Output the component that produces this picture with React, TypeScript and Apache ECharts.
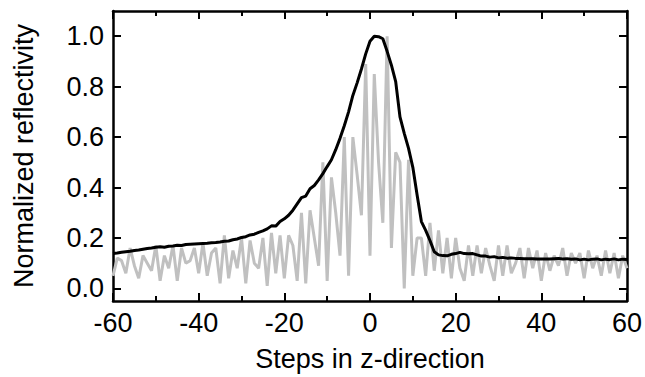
import React, { useEffect, useRef } from "react";
import * as echarts from "echarts";

// Steps in z-direction (x categories)
const steps = [
  -60, -59, -58, -57, -56, -55, -54, -53, -52, -51, -50, -49, -48, -47, -46, -45, -44, -43, -42, -41,
  -40, -39, -38, -37, -36, -35, -34, -33, -32, -31, -30, -29, -28, -27, -26, -25, -24, -23, -22, -21,
  -20, -19, -18, -17, -16, -15, -14, -13, -12, -11, -10, -9, -8, -7, -6, -5, -4, -3, -2, -1,
  0, 1, 2, 3, 4, 5, 6, 7, 8, 9, 10, 11, 12, 13, 14, 15, 16, 17, 18, 19,
  20, 21, 22, 23, 24, 25, 26, 27, 28, 29, 30, 31, 32, 33, 34, 35, 36, 37, 38, 39,
  40, 41, 42, 43, 44, 45, 46, 47, 48, 49, 50, 51, 52, 53, 54, 55, 56, 57, 58, 59, 60,
];

// Raw (oscillating) reflectivity, gray
const rawValues = [
  0.05, 0.12, 0.11, 0.06, 0.16, 0.09, 0.04, 0.13, 0.10, 0.07, 0.17, 0.03, 0.13, 0.08, 0.17, 0.03, 0.16, 0.10, 0.11, 0.16,
  0.06, 0.18, 0.05, 0.14, 0.16, 0.02, 0.21, 0.04, 0.15, 0.08, 0.20, 0.02, 0.19, 0.10, 0.08, 0.20, 0.01, 0.22, 0.06, 0.21,
  0.04, 0.21, 0.17, 0.03, 0.30, 0.02, 0.31, 0.20, 0.09, 0.50, 0.03, 0.44, 0.30, 0.13, 0.60, 0.05, 0.60, 0.45, 0.29, 0.89,
  0.13, 0.85, 0.50, 0.26, 1.0, 0.16, 0.54, 0.50, 0.0, 0.51, 0.05, 0.20, 0.20, 0.05, 0.26, 0.07, 0.23, 0.06, 0.20, 0.04,
  0.20, 0.08, 0.03, 0.17, 0.05, 0.17, 0.06, 0.16, 0.09, 0.03, 0.17, 0.05, 0.17, 0.06, 0.10, 0.16, 0.04, 0.16, 0.08, 0.15,
  0.03, 0.14, 0.07, 0.13, 0.09, 0.16, 0.05, 0.14, 0.10, 0.14, 0.04, 0.15, 0.08, 0.13, 0.05, 0.15, 0.06, 0.14, 0.04, 0.13, 0.08,
];

// Smoothed envelope, black
const envelopeValues = [
  0.138, 0.140, 0.143, 0.145, 0.147, 0.150, 0.152, 0.155, 0.158, 0.160, 0.163, 0.165, 0.163, 0.167, 0.168, 0.171, 0.170, 0.174, 0.175, 0.176,
  0.177, 0.178, 0.179, 0.181, 0.182, 0.184, 0.187, 0.188, 0.193, 0.196, 0.202, 0.205, 0.212, 0.215, 0.222, 0.228, 0.236, 0.248, 0.247, 0.265,
  0.276, 0.29, 0.31, 0.335, 0.36, 0.366, 0.395, 0.408, 0.43, 0.455, 0.483, 0.51, 0.55, 0.595, 0.645, 0.70, 0.765, 0.815, 0.87, 0.93,
  0.98, 1.0, 0.998, 0.99, 0.94, 0.885, 0.82, 0.68, 0.615, 0.555, 0.48, 0.37, 0.265, 0.23, 0.19, 0.145, 0.133, 0.13, 0.129, 0.135,
  0.138, 0.143, 0.138, 0.137, 0.138, 0.133, 0.128, 0.128, 0.124, 0.126, 0.121, 0.123, 0.12, 0.121, 0.119, 0.119, 0.118, 0.118, 0.118, 0.117,
  0.117, 0.117, 0.117, 0.118, 0.119, 0.117, 0.118, 0.116, 0.117, 0.113, 0.116, 0.113, 0.116, 0.117, 0.113, 0.116, 0.114, 0.117, 0.113, 0.116, 0.115,
];

const yTickValues = [0, 0.2, 0.4, 0.6, 0.8, 1.0];

const FONT = "'Liberation Sans', Arial, sans-serif";
const FS = 27;

export default function App() {
  const ref = useRef<HTMLDivElement>(null);

  useEffect(() => {
    if (!ref.current) return;
    const chart = echarts.init(ref.current, undefined, { renderer: "svg" });
    const lineStyleAxis = { color: "#000", width: 2.5 };
    const xCommon = {
      type: "value" as const,
      min: -60,
      max: 60,
      interval: 20,
      axisLine: { show: true, onZero: false, lineStyle: lineStyleAxis },
      axisTick: { show: true, inside: true, length: 8, lineStyle: { color: "#000", width: 2 } },
      minorTick: { show: true, splitNumber: 2, length: 5, lineStyle: { color: "#000", width: 2 } },
      splitLine: { show: false },
      minorSplitLine: { show: false },
    };
    const yCommon = {
      type: "value" as const,
      min: -0.05,
      max: 1.1,
      axisLine: { show: true, onZero: false, lineStyle: lineStyleAxis },
      axisTick: {
        show: true,
        inside: true,
        length: 8,
        customValues: yTickValues,
        lineStyle: { color: "#000", width: 2 },
      },
      splitLine: { show: false },
    };
    chart.setOption({
      animation: false,
      grid: { left: 113, right: 16, top: 11, bottom: 75, containLabel: false },
      xAxis: [
        {
          ...xCommon,
          position: "bottom",
          name: "Steps in z-direction",
          nameLocation: "middle",
          nameGap: 44,
          nameTextStyle: { fontFamily: FONT, fontSize: FS, color: "#000" },
          axisLabel: { fontFamily: FONT, fontSize: FS, color: "#000", margin: 8 },
        },
        {
          ...xCommon,
          position: "top",
          axisLabel: { show: false },
        },
      ],
      yAxis: [
        {
          ...yCommon,
          position: "left",
          name: "Normalized reflectivity",
          nameLocation: "middle",
          nameGap: 76,
          nameTextStyle: { fontFamily: FONT, fontSize: FS, color: "#000" },
          axisLabel: {
            fontFamily: FONT,
            fontSize: FS,
            color: "#000",
            margin: 9,
            customValues: yTickValues,
            formatter: (v: number) => v.toFixed(1),
          },
        },
        {
          ...yCommon,
          position: "right",
          axisLabel: { show: false },
        },
      ],
      series: [
        {
          type: "line",
          data: steps.map((s, i) => [s, rawValues[i]]),
          showSymbol: false,
          lineStyle: { color: "#c0c0c0", width: 3 },
          z: 1,
        },
        {
          type: "line",
          data: steps.map((s, i) => [s, envelopeValues[i]]),
          showSymbol: false,
          lineStyle: { color: "#000", width: 3 },
          z: 2,
        },
      ],
    });
    return () => chart.dispose();
  }, []);

  return (
    <div
      ref={ref}
      style={{ position: "fixed", left: 0, top: 0, width: 645, height: 377, background: "#fff" }}
    />
  );
}
